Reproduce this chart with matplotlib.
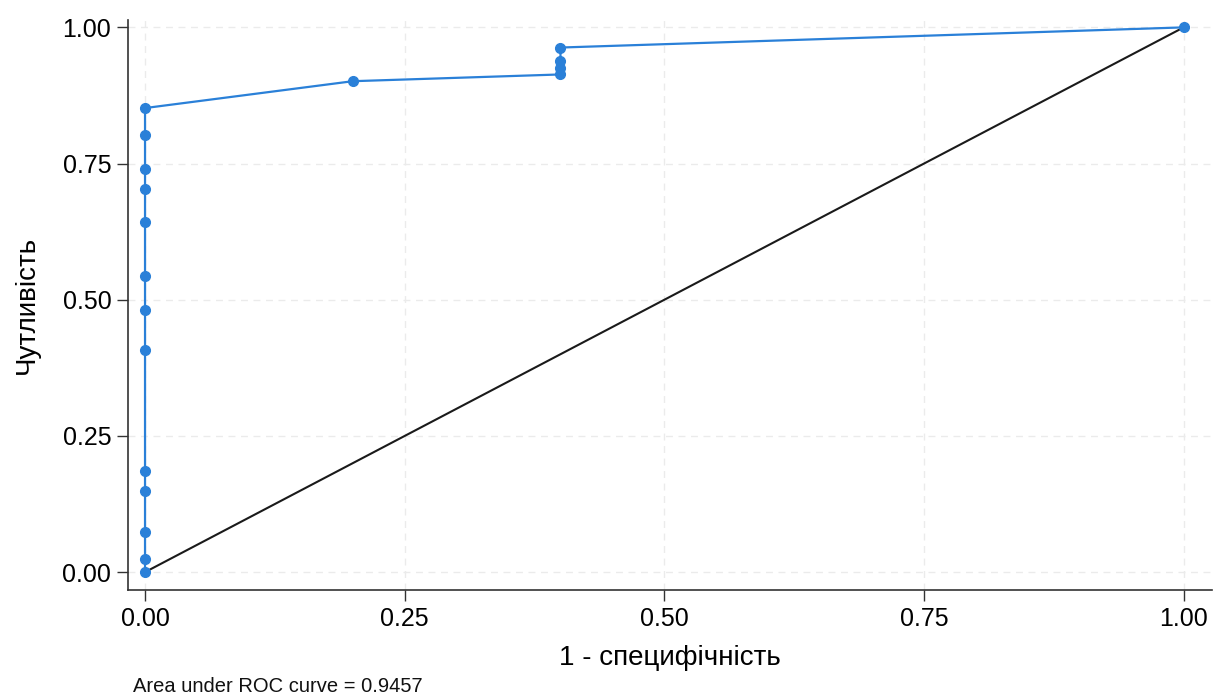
import matplotlib
matplotlib.use("Agg")
import matplotlib.pyplot as plt

plt.rcParams['font.family'] = ['Liberation Sans', 'DejaVu Sans']

# ROC curve points (1 - specificity, sensitivity)
fpr = [0.0, 0.0, 0.0, 0.0, 0.0, 0.0, 0.0, 0.0, 0.0, 0.0, 0.0, 0.0, 0.0,
       0.2, 0.4, 0.4, 0.4, 0.4, 1.0]
tpr = [0.0, 0.0247, 0.0741, 0.1481, 0.1852, 0.4074, 0.4815, 0.5432, 0.6420,
       0.7037, 0.7407, 0.8025, 0.8519,
       0.9012, 0.9136, 0.9259, 0.9383, 0.9630, 1.0]
ref_line = [0.0, 1.0]
ticks = [0.0, 0.25, 0.50, 0.75, 1.00]
tick_labels = ["0.00", "0.25", "0.50", "0.75", "1.00"]
auc_text = "Area under ROC curve = 0.9457"

fig = plt.figure(figsize=(12.19, 7.0), dpi=100)
ax = fig.add_axes([0.105, 0.157, 0.889, 0.814])

ax.plot(fpr, tpr, color='#2a80d8', linewidth=1.6, marker='o',
        markersize=7, zorder=3)
ax.plot(ref_line, ref_line, color='#1a1a1a', linewidth=1.5, zorder=2)

ax.set_xlim(-0.0164, 1.027)
ax.set_ylim(-0.033, 1.013)
ax.set_xticks(ticks)
ax.set_xticklabels(tick_labels)
ax.set_yticks(ticks)
ax.set_yticklabels(tick_labels)
ax.tick_params(axis='both', labelsize=18, direction='out', length=8,
               width=1, color='#333333', pad=4)
ax.grid(True, color='#ebebeb', linestyle=(0, (5, 4)), linewidth=1)
ax.set_axisbelow(True)
for side in ['top', 'right']:
    ax.spines[side].set_visible(False)
for side in ['left', 'bottom']:
    ax.spines[side].set_color('#333333')
    ax.spines[side].set_linewidth(1.2)

ax.set_xlabel("1 - специфічність", fontsize=20, labelpad=10)
ax.set_ylabel("Чутливість", fontsize=20, labelpad=16)

fig.text(133 / 1219, 1 - 686 / 700, auc_text, fontsize=14.5, va='center',
         ha='left', color='#111111')

fig.savefig("out.png", dpi=100, facecolor='white')
